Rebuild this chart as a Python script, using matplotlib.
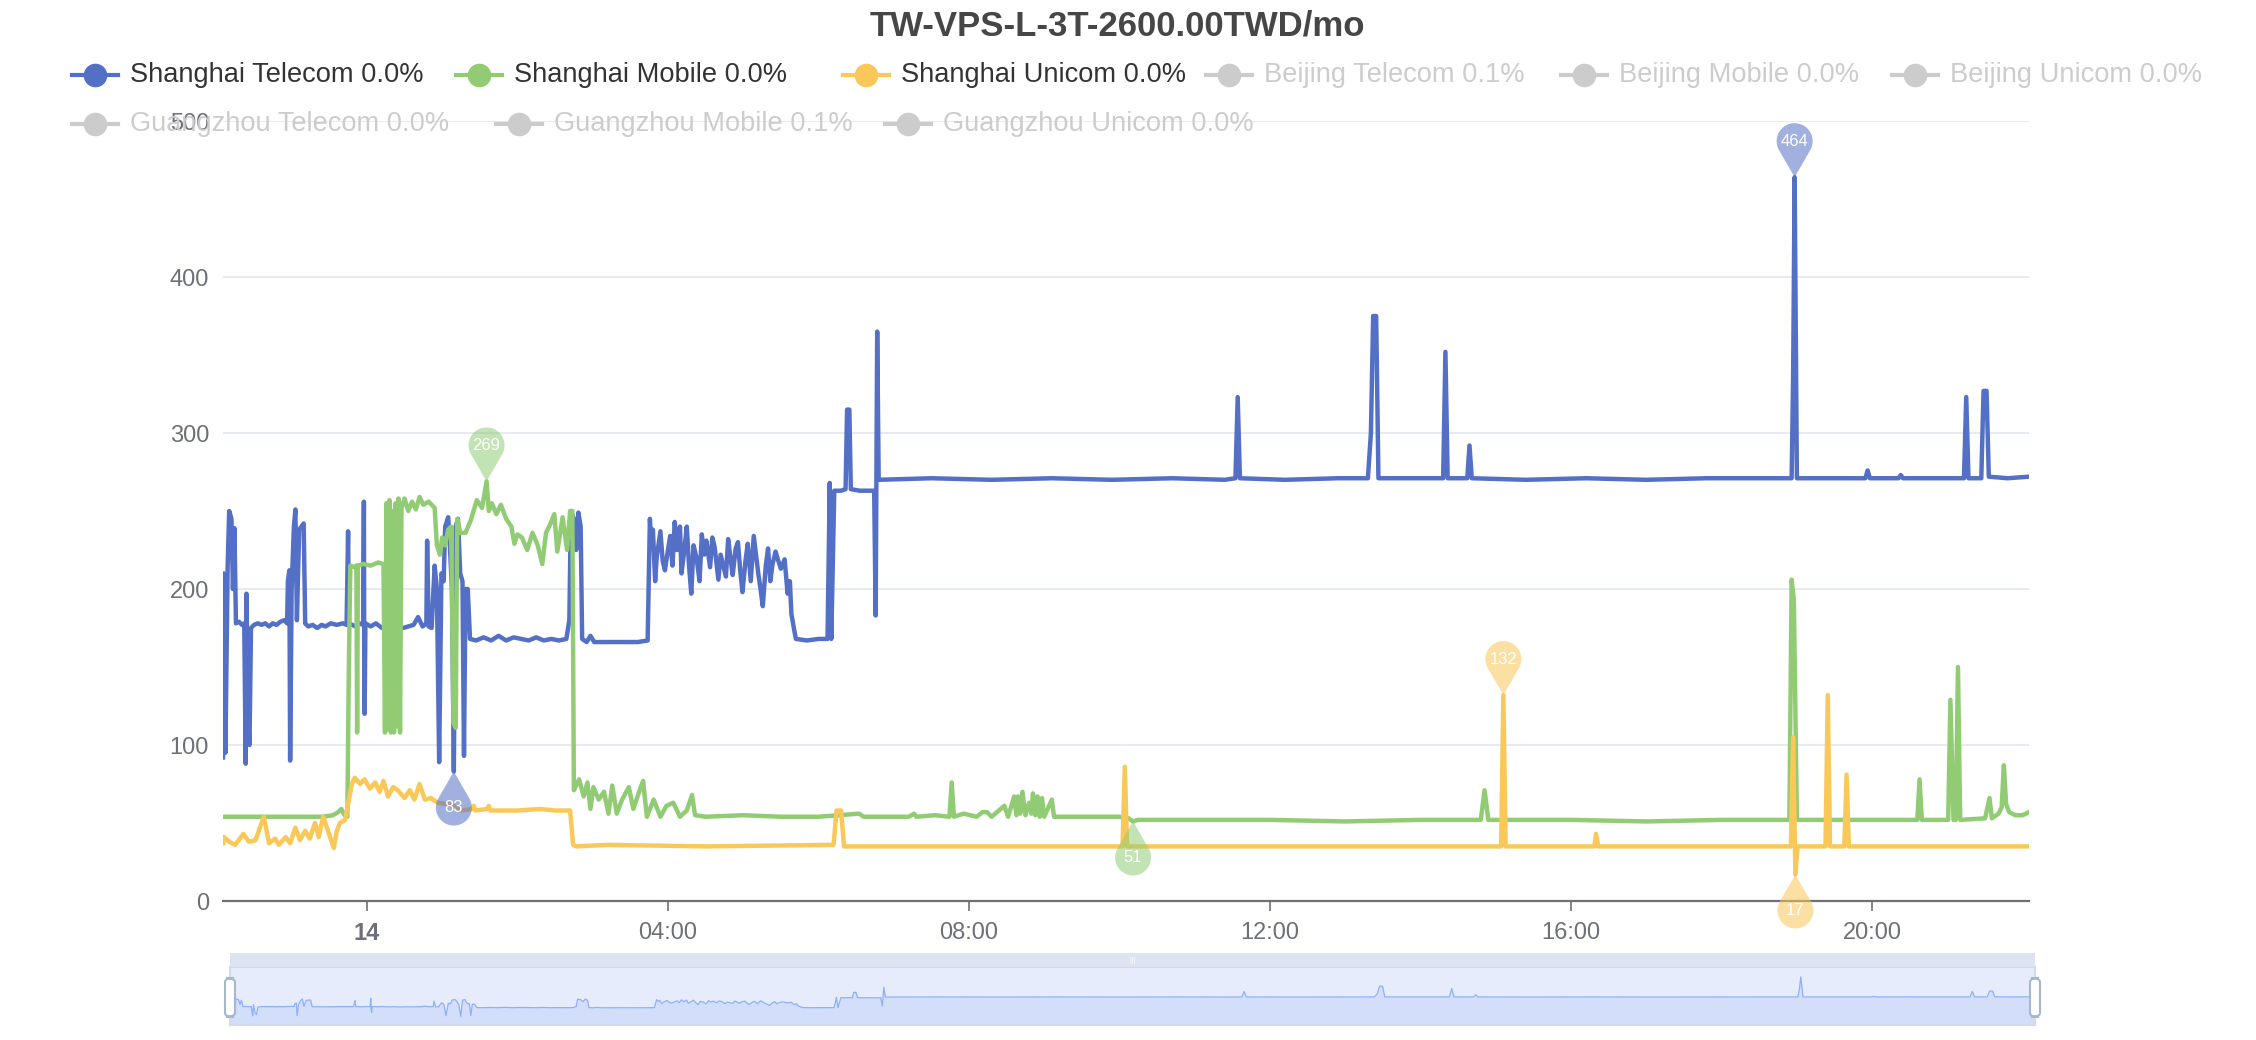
import numpy as np
import matplotlib
matplotlib.use('Agg')
import matplotlib.pyplot as plt
from matplotlib.patches import Polygon, FancyBboxPatch, Rectangle
from matplotlib.lines import Line2D
from matplotlib.transforms import ScaledTranslation

plt.rcParams['font.family'] = ['Liberation Sans', 'DejaVu Sans']

title = 'TW-VPS-L-3T-2600.00TWD/mo'

# 时间：以14日00:00为0点的小时数
telecom_t = [-1.912, -1.90, -1.88, -1.85, -1.83, -1.80, -1.78, -1.76, -1.74, -1.70, -1.66, -1.63, -1.61, -1.60,
             -1.58, -1.56, -1.54, -1.50, -1.45, -1.40, -1.35, -1.30, -1.25, -1.20, -1.15, -1.10, -1.06, -1.05,
             -1.03, -1.02, -1.00, -0.97, -0.95, -0.93, -0.90, -0.87, -0.84, -0.82, -0.78, -0.72, -0.66, -0.60,
             -0.55, -0.48, -0.40, -0.32, -0.27, -0.25, -0.24, -0.15, -0.10, -0.05, -0.04, -0.035, -0.03, -0.02,
             0.05, 0.12, 0.20, 0.28, 0.35, 0.42, 0.48, 0.55, 0.62, 0.68, 0.74, 0.79, 0.80, 0.82, 0.86, 0.90,
             0.93, 0.96, 0.99, 1.02, 1.04, 1.08, 1.10, 1.13, 1.155, 1.18, 1.21, 1.24, 1.27, 1.29, 1.31, 1.34,
             1.37, 1.45, 1.55, 1.65, 1.75, 1.85, 1.95, 2.05, 2.15, 2.25, 2.35, 2.45, 2.55, 2.65, 2.69, 2.71,
             2.75, 2.78, 2.81, 2.84, 2.86, 2.92, 2.97, 3.02, 3.20, 3.40, 3.60, 3.73, 3.76, 3.78, 3.80, 3.83,
             3.85, 3.88, 3.90, 3.93, 3.96, 4.00, 4.03, 4.06, 4.09, 4.12, 4.16, 4.18, 4.22, 4.25, 4.28, 4.31,
             4.34, 4.38, 4.42, 4.45, 4.48, 4.51, 4.56, 4.59, 4.62, 4.67, 4.70, 4.73, 4.77, 4.80, 4.83, 4.86,
             4.90, 4.93, 4.96, 4.99, 5.03, 5.06, 5.10, 5.14, 5.17, 5.20, 5.23, 5.26, 5.30, 5.33, 5.36, 5.39,
             5.43, 5.46, 5.50, 5.55, 5.59, 5.62, 5.64, 5.68, 5.70, 5.85, 6.00, 6.12, 6.15, 6.17, 6.21, 6.30,
             6.36, 6.38, 6.41, 6.43, 6.55, 6.70, 6.74, 6.76, 6.78, 6.80, 7.50, 8.30, 9.10, 9.90, 10.70, 11.40,
             11.54, 11.57, 11.60, 12.20, 12.90, 13.30, 13.34, 13.37, 13.41, 13.44, 13.80, 14.30, 14.33, 14.36,
             14.62, 14.65, 14.68, 15.40, 16.20, 17.00, 17.80, 18.50, 18.93, 18.95, 18.97, 19.00, 19.50, 19.91,
             19.94, 19.97, 20.35, 20.38, 20.41, 20.90, 21.22, 21.25, 21.28, 21.45, 21.48, 21.52, 21.55, 21.80,
             22.084]
telecom_v = [92, 210, 95, 215, 250, 245, 200, 239, 178, 179, 177, 178, 88, 197,
             120, 100, 175, 177, 178, 177, 178, 176, 178, 177, 179, 180, 178, 205,
             212, 90, 200, 240, 251, 180, 238, 240, 242, 178, 176, 177, 175, 177,
             176, 178, 177, 178, 177, 237, 178, 176, 178, 177, 256, 150, 120, 178,
             176, 178, 175, 177, 174, 176, 175, 176, 177, 182, 176, 178, 231, 176, 175, 215,
             200, 89, 210, 205, 240, 246, 230, 200, 83, 240, 245, 210, 205, 93, 200, 200,
             168, 167, 169, 167, 170, 167, 169, 168, 167, 169, 167, 168, 167, 168, 180, 250,
             245, 225, 249, 240, 168, 166, 170, 166, 166, 166, 166, 167, 245, 228, 238, 205,
             220, 230, 237, 218, 212, 225, 234, 215, 243, 225, 240, 210, 226, 240, 215, 197,
             228, 220, 205, 235, 222, 231, 214, 233, 227, 206, 222, 216, 208, 232, 220, 209,
             226, 230, 212, 198, 218, 229, 205, 234, 222, 210, 200, 189, 215, 226, 205, 216,
             224, 219, 213, 219, 197, 205, 184, 173, 168, 167, 168, 168, 268, 168, 263, 263,
             264, 315, 315, 264, 263, 263, 263, 183, 365, 270, 271, 270, 271, 270, 271, 270,
             271, 323, 271, 270, 271, 271, 300, 375, 375, 271, 271, 271, 352, 271,
             271, 292, 271, 270, 271, 270, 271, 271, 271, 336, 464, 271, 271, 271,
             276, 271, 271, 273, 271, 271, 271, 323, 271, 271, 327, 327, 272, 271,
             272]

mobile_t = [-1.912, -1.50, -1.00, -0.60, -0.45, -0.38, -0.34, -0.31, -0.28, -0.26, -0.24, -0.22, -0.17, -0.14,
            -0.13, -0.12, -0.05, 0.05, 0.15, 0.22, 0.24, 0.26, 0.28, 0.30, 0.32, 0.34, 0.36, 0.38, 0.40, 0.42,
            0.44, 0.46, 0.50, 0.55, 0.60, 0.65, 0.70, 0.75, 0.82, 0.90, 0.93, 0.97, 1.00, 1.04, 1.08, 1.12,
            1.15, 1.18, 1.20, 1.24, 1.31, 1.38, 1.46, 1.53, 1.59, 1.62, 1.66, 1.72, 1.78, 1.85, 1.92, 1.96,
            2.00, 2.06, 2.13, 2.20, 2.27, 2.33, 2.38, 2.44, 2.49, 2.53, 2.60, 2.66, 2.70, 2.73, 2.75, 2.82,
            2.88, 2.93, 2.97, 3.01, 3.08, 3.15, 3.21, 3.26, 3.32, 3.39, 3.48, 3.54, 3.61, 3.67, 3.72, 3.81,
            3.90, 3.98, 4.07, 4.16, 4.25, 4.32, 4.36, 4.50, 5.00, 5.50, 6.00, 6.54, 6.60, 7.20, 7.27, 7.30,
            7.55, 7.74, 7.77, 7.80, 7.93, 8.10, 8.18, 8.24, 8.30, 8.47, 8.52, 8.60, 8.63, 8.65, 8.68, 8.71,
            8.75, 8.80, 8.83, 8.85, 8.88, 8.91, 8.94, 8.97, 9.00, 9.10, 9.13, 9.50, 10.00, 10.12, 10.18, 10.24,
            11.00, 12.00, 13.00, 14.00, 14.80, 14.85, 14.90, 16.00, 17.00, 18.00, 18.90, 18.93, 18.96, 19.00,
            19.80, 20.60, 20.63, 20.66, 21.01, 21.04, 21.08, 21.11, 21.14, 21.17, 21.50, 21.56, 21.59, 21.68,
            21.72, 21.75, 21.78, 21.82, 21.90, 22.00, 22.084]
mobile_v = [54, 54, 54, 54, 55, 57, 59, 56, 54, 54, 150, 215, 214, 215,
            108, 215, 216, 215, 217, 216, 108, 255, 110, 257, 108, 250, 108, 255, 112, 258,
            108, 252, 258, 250, 256, 251, 259, 254, 256, 252, 228, 222, 233, 228, 238, 240,
            114, 111, 245, 236, 236, 244, 257, 252, 269, 250, 255, 248, 254, 245, 240, 229,
            235, 233, 225, 236, 228, 216, 236, 242, 248, 224, 246, 225, 250, 250, 71, 78,
            67, 76, 59, 73, 65, 70, 56, 74, 56, 65, 73, 59, 69, 77, 54, 65,
            54, 61, 63, 54, 58, 68, 55, 54, 55, 54, 54, 56, 54, 54, 56, 54,
            55, 54, 76, 54, 56, 54, 57, 57, 54, 61, 54, 67, 55, 67, 56, 70,
            55, 63, 56, 69, 55, 67, 54, 66, 54, 65, 54, 54, 54, 53, 51, 52,
            52, 52, 51, 52, 52, 71, 52, 52, 51, 52, 52, 206, 193, 52,
            52, 52, 78, 52, 52, 129, 52, 52, 150, 52, 53, 66, 53, 56,
            60, 87, 62, 57, 55, 55, 57]

unicom_t = [-1.912, -1.90, -1.83, -1.75, -1.64, -1.57, -1.48, -1.37, -1.30, -1.22, -1.17, -1.08, -1.02, -0.95,
            -0.89, -0.82, -0.76, -0.69, -0.64, -0.58, -0.51, -0.44, -0.40, -0.36, -0.29, -0.25, -0.20, -0.16,
            -0.09, -0.03, 0.04, 0.11, 0.17, 0.22, 0.28, 0.35, 0.41, 0.50, 0.57, 0.63, 0.70, 0.77, 0.85, 0.94,
            1.08, 1.20, 1.25, 1.40, 1.42, 1.44, 1.60, 1.62, 1.64, 2.00, 2.30, 2.50, 2.70, 2.74, 2.78, 3.20,
            4.50, 6.20, 6.24, 6.30, 6.34, 8.00, 10.04, 10.07, 10.10, 12.00, 15.07, 15.10, 15.13, 16.31,
            16.33, 16.36, 18.92, 18.95, 18.98, 19.01, 19.38, 19.41, 19.44, 19.63, 19.66, 19.69, 21.00, 22.084]
unicom_v = [37, 41, 38, 36, 43, 38, 39, 54, 37, 40, 36, 41, 37, 47,
            39, 45, 40, 50, 41, 54, 44, 34, 45, 50, 52, 62, 75, 79,
            75, 78, 72, 76, 70, 77, 67, 73, 71, 66, 71, 65, 75, 65, 66, 63,
            62, 60, 58, 59, 61, 58, 59, 61, 58, 58, 59, 58, 58, 36, 35, 36,
            35, 36, 58, 58, 35, 35, 35, 86, 35, 35, 35, 132, 35, 35,
            43, 35, 35, 105, 17, 35, 35, 132, 35, 35, 81, 35, 35, 35]

names = ['Shanghai Telecom 0.0%', 'Shanghai Mobile 0.0%', 'Shanghai Unicom 0.0%',
         'Beijing Telecom 0.1%', 'Beijing Mobile 0.0%', 'Beijing Unicom 0.0%',
         'Guangzhou Telecom 0.0%', 'Guangzhou Mobile 0.1%', 'Guangzhou Unicom 0.0%']
colors = ['#5470c6', '#91cc75', '#fac858']
tick_hours = [0, 4, 8, 12, 16, 20]
tick_labels = ['14', '04:00', '08:00', '12:00', '16:00', '20:00']

W, H = 2256, 1040
fig = plt.figure(figsize=(W / 100, H / 100), dpi=100)
fig.patch.set_facecolor('white')

# 主图区域（像素换算）
ax = fig.add_axes([223 / W, 1 - 901 / H, (2029 - 223) / W, (901 - 121) / H])
ax.set_xlim(-1.912, 22.084)
ax.set_ylim(0, 500)
for s in ['top', 'right', 'left']:
    ax.spines[s].set_visible(False)
ax.spines['bottom'].set_color('#6e7079')
ax.spines['bottom'].set_linewidth(1.6)
ax.set_yticks([0, 100, 200, 300, 400, 500])
ax.yaxis.grid(True, color='#e0e6f1', linewidth=1.2)
ax.set_axisbelow(True)
ax.tick_params(axis='y', length=0, pad=10, labelsize=17, labelcolor='#6e7079')
ax.set_xticks(tick_hours)
ax.set_xticklabels(tick_labels)
ax.tick_params(axis='x', length=7, width=1.2, color='#6e7079', pad=8, labelsize=17, labelcolor='#6e7079')
ax.get_xticklabels()[0].set_fontweight('bold')

series = [(telecom_t, telecom_v), (mobile_t, mobile_v), (unicom_t, unicom_v)]
for (t, v), c in zip(series, colors):
    ax.plot(t, v, color=c, linewidth=3.2, solid_joinstyle='round', zorder=3)

# 标注点（最大/最小值气泡）
def pin(x, y, c, txt, flip=False):
    r = 18 / 100
    d = 36 / 100
    phi = np.arccos(r / d)
    ang = np.linspace(-np.pi / 2 + phi, 3 * np.pi / 2 - phi, 60)
    px = np.concatenate([[0], r * np.cos(ang)])
    py = np.concatenate([[0], d + r * np.sin(ang)])
    if flip:
        py = -py
    tr = fig.dpi_scale_trans + ScaledTranslation(x, y, ax.transData)
    ax.add_patch(Polygon(np.column_stack([px, py]), closed=True, transform=tr,
                         facecolor=c, edgecolor='none', alpha=0.55, zorder=5, clip_on=False))
    off = -36 * 0.72 if flip else 36 * 0.72
    ax.annotate(txt, (x, y), xytext=(0, off), textcoords='offset points', ha='center', va='center',
                color='white', fontsize=12, zorder=6, annotation_clip=False)

for (t, v), c in zip(series, colors):
    i = int(np.argmax(v))
    pin(t[i], v[i], c, str(v[i]))
    j = int(np.argmin(v))
    pin(t[j], v[j], c, str(v[j]), flip=True)

fig.text(1117 / W, 1 - 26 / H, title, ha='center', va='center', fontsize=25, fontweight='bold', color='#464646')

# 图例
leg_pos = [(72, 75), (456, 75), (843, 75), (1206, 75), (1561, 75), (1892, 75),
           (72, 124), (496, 124), (885, 124)]
for k, (name, (lx, ly)) in enumerate(zip(names, leg_pos)):
    c = colors[k] if k < 3 else '#cccccc'
    tc = '#333333' if k < 3 else '#cccccc'
    yy = 1 - ly / H
    fig.add_artist(Line2D([lx / W, (lx + 46) / W], [yy, yy], color=c, linewidth=3,
                          transform=fig.transFigure))
    fig.add_artist(Line2D([(lx + 23) / W], [yy], color=c, marker='o', markersize=16,
                          linestyle='none', transform=fig.transFigure))
    fig.text((lx + 58) / W, yy, name, ha='left', va='center', fontsize=19.6, color=tc)

# 底部缩放条
sx0, sx1 = 230, 2035
fig.add_artist(Rectangle((sx0 / W, 1 - 967 / H), (sx1 - sx0) / W, 14 / H, transform=fig.transFigure,
                         facecolor='#dde3f1', edgecolor='none'))
fig.text((sx0 + sx1) / 2 / W, 1 - 960 / H, '|||', ha='center', va='center', fontsize=6, color='white')
sax = fig.add_axes([sx0 / W, 1 - 1025 / H, (sx1 - sx0) / W, (1025 - 967) / H])
sax.set_facecolor('#e6ecfb')
sax.set_xlim(-1.912, 22.084)
sax.set_ylim(0, 560)
sax.fill_between(telecom_t, telecom_v, 0, color='#d3defb', linewidth=0)
sax.plot(telecom_t, telecom_v, color='#8fb0f7', linewidth=0.9)
sax.set_xticks([])
sax.set_yticks([])
for s in sax.spines.values():
    s.set_color('#d2dbee')
    s.set_linewidth(1.5)
for hx in [sx0, sx1]:
    fig.add_artist(FancyBboxPatch(((hx - 5) / W, 1 - 1017 / H), 10 / W, 39 / H,
                                  boxstyle='round,pad=0,rounding_size=0.004', transform=fig.transFigure,
                                  facecolor='white', edgecolor='#a7b7cc', linewidth=1.5, zorder=10))

fig.savefig('out.png', dpi=100, facecolor='white')
